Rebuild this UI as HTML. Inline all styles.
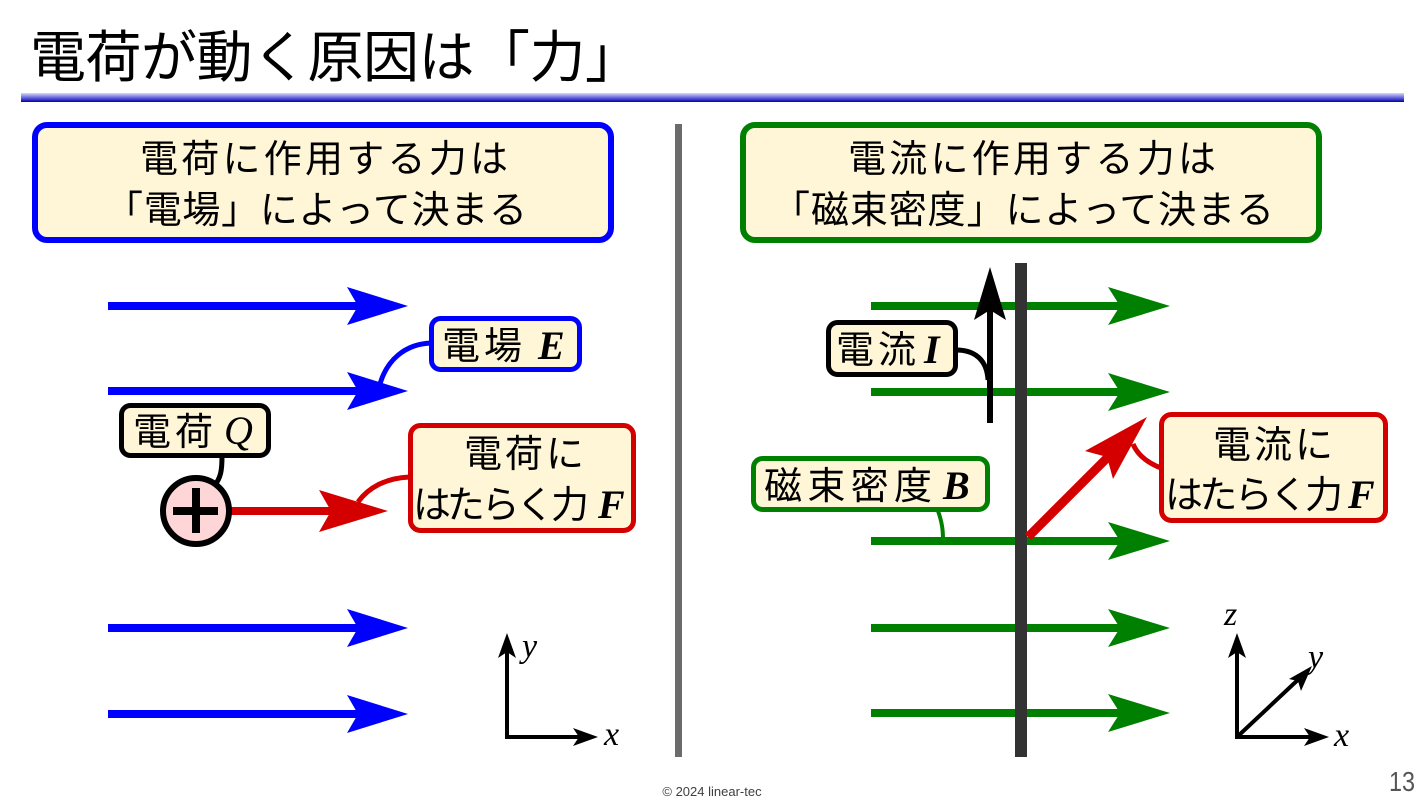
<!DOCTYPE html>
<html><head><meta charset="utf-8">
<style>
html,body{margin:0;padding:0;background:#fff;}
svg{display:block;}
.jp{font-family:"Liberation Sans","Noto Sans CJK JP",sans-serif;fill:#000;}
.bi{font-family:"Liberation Serif",serif;font-style:italic;font-weight:bold;fill:#000;}
.it{font-family:"Liberation Serif",serif;font-style:italic;fill:#000;}
</style></head>
<body>
<svg width="1426" height="803" viewBox="0 0 1426 803" xmlns="http://www.w3.org/2000/svg">
<defs>
<linearGradient id="bar" x1="0" y1="0" x2="0" y2="1">
<stop offset="0" stop-color="#d8d8f4"/>
<stop offset="0.5" stop-color="#6a6ae0"/>
<stop offset="1" stop-color="#0000a8"/>
</linearGradient>
</defs>
<rect width="1426" height="803" fill="#fff"/>

<!-- Title -->
<text class="jp" x="30" y="77" font-size="56" textLength="611" lengthAdjust="spacing">電荷が動く原因は「力」</text>
<rect x="21" y="93" width="1383" height="9" fill="url(#bar)"/>

<!-- divider -->
<rect x="675" y="124" width="7" height="633" fill="#6b6b6b"/>

<!-- Left big box -->
<rect x="35" y="125" width="576" height="115" rx="12" fill="#fff5d7" stroke="#0000ff" stroke-width="6"/>
<text class="jp" x="324" y="172" font-size="38" text-anchor="middle" textLength="368" lengthAdjust="spacing">電荷に作用する力は</text>
<text class="jp" x="316" y="223" font-size="38" text-anchor="middle" textLength="422" lengthAdjust="spacing">「電場」によって決まる</text>

<!-- Right big box -->
<rect x="743" y="125" width="576" height="115" rx="12" fill="#fff5d7" stroke="#008000" stroke-width="6"/>
<text class="jp" x="1032" y="172" font-size="38" text-anchor="middle" textLength="368" lengthAdjust="spacing">電流に作用する力は</text>
<text class="jp" x="1023" y="223" font-size="38" text-anchor="middle" textLength="502" lengthAdjust="spacing">「磁束密度」によって決まる</text>

<!-- Blue arrows -->
<g fill="#0000ff" stroke="none">
<rect x="108" y="302" width="255" height="8"/>
<polygon points="408,306 347,287 358,306 347,325"/>
<rect x="108" y="387" width="255" height="8"/>
<polygon points="408,391 347,372 358,391 347,410"/>
<rect x="108" y="624" width="255" height="8"/>
<polygon points="408,628 347,609 358,628 347,647"/>
<rect x="108" y="710" width="255" height="8"/>
<polygon points="408,714 347,695 358,714 347,733"/>
</g>

<!-- E label -->
<path d="M431,343 C405,344 387,360 380,384" fill="none" stroke="#0000ff" stroke-width="5"/>
<rect x="431.5" y="318.5" width="148" height="51" rx="9" fill="#fff5d7" stroke="#0000ff" stroke-width="5"/>
<text class="jp" x="442" y="359" font-size="38" textLength="80" lengthAdjust="spacing">電場</text>
<text class="bi" x="538" y="359" font-size="40">E</text>

<!-- Charge -->
<path d="M222,456 C222,470 221,478 214,486" fill="none" stroke="#000" stroke-width="5"/>
<rect x="121.5" y="405.5" width="147" height="50" rx="9" fill="#fff5d7" stroke="#000" stroke-width="5"/>
<text class="jp" x="133" y="445" font-size="38" textLength="80" lengthAdjust="spacing">電荷</text>
<text class="it" x="224" y="444" font-size="40">Q</text>

<!-- red arrow left -->
<rect x="228" y="507" width="105" height="8" fill="#d40000"/>
<polygon points="388,511 319,490 331,511 319,532" fill="#d40000"/>
<circle cx="196" cy="511" r="33" fill="#ffd6d8" stroke="#000" stroke-width="6"/>
<rect x="173" y="507" width="45" height="8" fill="#000"/>
<rect x="192" y="488" width="8" height="45" fill="#000"/>

<path d="M410,477 C385,478 368,488 358,502" fill="none" stroke="#d40000" stroke-width="5"/>
<rect x="410.5" y="425.5" width="223" height="105" rx="10" fill="#fff5d7" stroke="#d40000" stroke-width="5"/>
<text class="jp" x="524" y="467" font-size="38" text-anchor="middle" textLength="120" lengthAdjust="spacing">電荷に</text>
<text class="jp" x="413" y="518" font-size="38" textLength="176" lengthAdjust="spacing">はたらく力</text>
<text class="bi" x="598" y="518" font-size="40">F</text>

<!-- left axes -->
<g stroke="#000" stroke-width="4" fill="none">
<line x1="507" y1="739" x2="507" y2="648"/>
<line x1="505" y1="737" x2="582" y2="737"/>
</g>
<polygon points="507,633 498,658 507,652 516,658" fill="#000"/>
<polygon points="598,737 573,728 579,737 573,746" fill="#000"/>
<text class="it" x="522" y="657" font-size="34">y</text>
<text class="it" x="604" y="745" font-size="34">x</text>

<!-- Right panel: green arrows -->
<g fill="#008000">
<rect x="871" y="302" width="252" height="8"/>
<polygon points="1170,306 1108,287 1120,306 1108,325"/>
<rect x="871" y="388" width="252" height="8"/>
<polygon points="1170,392 1108,373 1120,392 1108,411"/>
<rect x="871" y="537" width="252" height="8"/>
<polygon points="1170,541 1108,522 1120,541 1108,560"/>
<rect x="871" y="624" width="252" height="8"/>
<polygon points="1170,628 1108,609 1120,628 1108,647"/>
<rect x="871" y="709" width="252" height="8"/>
<polygon points="1170,713 1108,694 1120,713 1108,732"/>
</g>

<!-- wire -->
<rect x="1015" y="263" width="12" height="494" fill="#333333"/>

<!-- current arrow -->
<rect x="987" y="300" width="6" height="123" fill="#000"/>
<polygon points="990,267 974,320 990,310 1006,320" fill="#000"/>
<path d="M956,350 C975,350 987,360 988,380" fill="none" stroke="#000" stroke-width="5"/>
<rect x="828.5" y="322.5" width="127" height="52" rx="9" fill="#fff5d7" stroke="#000" stroke-width="5"/>
<text class="jp" x="836" y="363" font-size="38" textLength="80" lengthAdjust="spacing">電流</text>
<text class="bi" x="924" y="363" font-size="40">I</text>

<!-- B label -->
<path d="M938,511 C942,522 943,530 943,540" fill="none" stroke="#008000" stroke-width="4"/>
<rect x="753.5" y="458.5" width="234" height="51" rx="9" fill="#fff5d7" stroke="#008000" stroke-width="5"/>
<text class="jp" x="764" y="499" font-size="38" textLength="168" lengthAdjust="spacing">磁束密度</text>
<text class="bi" x="943" y="499" font-size="40">B</text>

<!-- red diagonal arrow -->
<line x1="1028" y1="537" x2="1108" y2="457" stroke="#d40000" stroke-width="9"/>
<polygon points="1147,417 1085,451 1107,457 1113,479" fill="#d40000"/>
<path d="M1161,468 C1148,463 1138,456 1133,444" fill="none" stroke="#d40000" stroke-width="5"/>
<rect x="1161.5" y="414.5" width="224" height="106" rx="10" fill="#fff5d7" stroke="#d40000" stroke-width="5"/>
<text class="jp" x="1273" y="458" font-size="38" text-anchor="middle" textLength="120" lengthAdjust="spacing">電流に</text>
<text class="jp" x="1165" y="508" font-size="38" textLength="178" lengthAdjust="spacing">はたらく力</text>
<text class="bi" x="1348" y="508" font-size="40">F</text>

<!-- right axes -->
<g stroke="#000" stroke-width="4" fill="none">
<line x1="1237" y1="739" x2="1237" y2="648"/>
<line x1="1235" y1="737" x2="1313" y2="737"/>
<line x1="1237" y1="737" x2="1302" y2="676"/>
</g>
<polygon points="1237,633 1228,658 1237,652 1246,658" fill="#000"/>
<polygon points="1329,737 1304,728 1310,737 1304,746" fill="#000"/>
<polygon points="1312,666 1289,679 1298,681 1301,691" fill="#000"/>
<text class="it" x="1224" y="625" font-size="34">z</text>
<text class="it" x="1308" y="668" font-size="34">y</text>
<text class="it" x="1334" y="746" font-size="34">x</text>

<!-- footer -->
<text x="712" y="796" font-size="13" text-anchor="middle" fill="#404040" font-family="Liberation Sans, sans-serif">© 2024 linear-tec</text>
<text x="1389" y="791" font-size="28" fill="#555" font-family="Liberation Sans Narrow, Liberation Sans, sans-serif" textLength="26" lengthAdjust="spacingAndGlyphs">13</text>
</svg>
</body></html>
